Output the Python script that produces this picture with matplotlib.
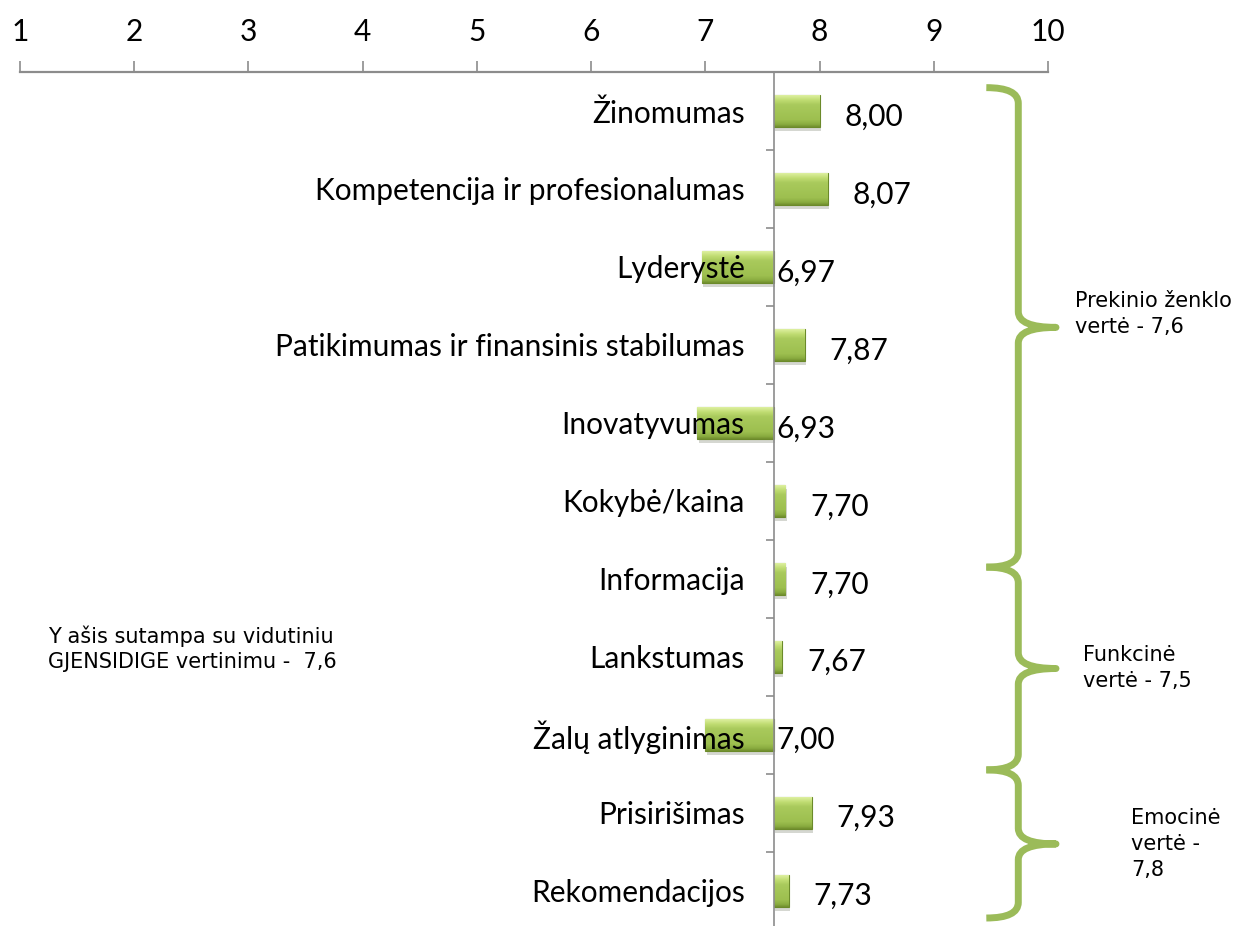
import numpy as np
import matplotlib.pyplot as plt
from matplotlib.path import Path
from matplotlib.patches import PathPatch
from matplotlib.colors import LinearSegmentedColormap
import matplotlib.patheffects as pe

# data
categories = ['Žinomumas', 'Kompetencija ir profesionalumas', 'Lyderystė',
              'Patikimumas ir finansinis stabilumas', 'Inovatyvumas', 'Kokybė/kaina',
              'Informacija', 'Lankstumas', 'Žalų atlyginimas', 'Prisirišimas',
              'Rekomendacijos']
values = [8.00, 8.07, 6.97, 7.87, 6.93, 7.70, 7.70, 7.67, 7.00, 7.93, 7.73]
base = 7.6
group_labels = ['Prekinio ženklo\nvertė - 7,6', 'Funkcinė\nvertė - 7,5', 'Emocinė\nvertė -\n7,8']

cat_font = 'Lato'
note_font = 'DejaVu Sans'
green = '#9BBB59'

fig = plt.figure(figsize=(12.4, 9.26), dpi=100)
ax = fig.add_axes([20/1240, -0.004, (1048-20)/1240, 0.9222 + 0.004])

y = np.arange(len(categories))
widths = [v - base for v in values]
bars = ax.barh(y, widths, left=base, height=0.41, color=green,
               edgecolor='#6B8A2A', linewidth=0.8, zorder=1)

# gradient fill + soft shadow to mimic the bevel look
cmap = LinearSegmentedColormap.from_list(
    'g', [(0, '#DDF0A0'), (0.15, '#C0DC72'), (0.3, '#A9CA5C'),
          (0.78, '#9DBF4F'), (0.92, '#8AAC40'), (1, '#728F2E')])
grad = np.linspace(0, 1, 64).reshape(-1, 1)
for b in bars:
    b.set_path_effects([pe.SimplePatchShadow(offset=(1, -3), alpha=0.2), pe.Normal()])
    x0, y0 = b.get_x(), b.get_y()
    w, h = b.get_width(), b.get_height()
    im = ax.imshow(grad, cmap=cmap, aspect='auto', origin='upper',
                   extent=(x0, x0 + w, y0 + h, y0), zorder=1.1)
    im.set_clip_path(b)

ax.set_xlim(1, 10)
ax.set_ylim(len(categories) - 0.5, -0.5)

# axes styling
for s in ['right', 'bottom']:
    ax.spines[s].set_visible(False)
ax.spines['top'].set_color('#8C8C8C')
ax.spines['top'].set_linewidth(1.6)
ax.spines['left'].set_position(('data', base))
ax.spines['left'].set_color('#8C8C8C')
ax.spines['left'].set_linewidth(1.2)

ax.xaxis.tick_top()
ax.set_xticks(range(1, 11))
ax.set_xticklabels([str(i) for i in range(1, 11)], fontsize=21.5, fontfamily=cat_font)
ax.tick_params(axis='x', direction='out', length=8, width=1.2, color='#8C8C8C', pad=11)

ax.set_yticks(y)
ax.set_yticklabels(categories, fontsize=21.5, fontfamily=cat_font)
ax.set_yticks(np.arange(len(categories) - 1) + 0.5, minor=True)
ax.tick_params(axis='y', which='major', length=0, pad=21)
ax.tick_params(axis='y', which='minor', length=6, width=1.2, color='#8C8C8C', direction='out')

# value labels
for i, v in enumerate(values):
    xl = v + 0.22 if v >= base else base + 0.02
    ax.text(xl, i + 0.07, f'{v:.2f}'.replace('.', ','), fontsize=21.5,
            fontfamily=cat_font, va='center', ha='left', zorder=3)

# braces
def brace(y0, y1, xs=9.74, xl=9.46, xp=10.07, r=0.2):
    ym = (y0 + y1) / 2
    verts = [(xl, y0), (xs, y0), (xs, y0 + r),
             (xs, ym - r), (xs, ym), (xp, ym),
             (xs, ym), (xs, ym + r),
             (xs, y1 - r), (xs, y1), (xl, y1)]
    codes = [Path.MOVETO, Path.CURVE3, Path.CURVE3,
             Path.LINETO, Path.CURVE3, Path.CURVE3,
             Path.CURVE3, Path.CURVE3,
             Path.LINETO, Path.CURVE3, Path.CURVE3]
    p = PathPatch(Path(verts, codes), fill=False, edgecolor=green, lw=5,
                  capstyle='butt', joinstyle='round', clip_on=False, zorder=4)
    ax.add_patch(p)

spans = [(-0.3, 5.85), (5.85, 8.45), (8.45, 10.35)]
for sp in spans:
    brace(*sp)

ax.text(10.24, 2.6, group_labels[0], fontsize=15, fontfamily=note_font,
        va='center', ha='left', clip_on=False, linespacing=1.35)
ax.text(10.31, 7.14, group_labels[1], fontsize=15, fontfamily=note_font,
        va='center', ha='left', clip_on=False, linespacing=1.35)
ax.text(10.73, 9.4, group_labels[2], fontsize=15, fontfamily=note_font,
        va='center', ha='left', clip_on=False, linespacing=1.35)

ax.text(1.245, 6.9, 'Y ašis sutampa su vidutiniu\nGJENSIDIGE vertinimu -  7,6',
        fontsize=15, fontfamily=note_font, va='center', ha='left', linespacing=1.3)

plt.savefig('out.png', dpi=100)
